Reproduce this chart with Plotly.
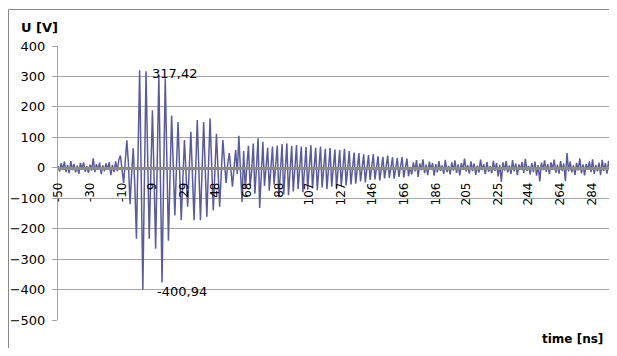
import numpy as np
import plotly.graph_objects as go

# ---- data (U in volts, sampled every 1 ns starting at -50 ns) ----
t_start = -50
t_step = 1

noise_before = [6, -12, 15, -6, 20, -14, 9, -18, 22, -8,
                13, -15, 7, -20, 16, -4, 18, -13, 5, -17,
                10, -9, 31, -14, 12, -7, 17, -21, 8, -12,
                14, -6, 19, -24, 9, -14, 21, -11, 26]

burst = [40, -5, -50, 18, 90, 15, -120, -20, 64, -60,
         -233, 40, 320, -30, -400.94, -40, 317.42, 40, -233, -20,
         189, -30, -266, 20, 304, -40, -377, -30, 293, 30,
         -240, -30, 172, 10, -157, 0]

decay_a = [150, -10, -172, -40, 91, -20, -128, -5, 118, -25,
           -172, -10, 157, -5, -172, -10, 150, -5, -161, 0,
           162, 10, -140, -15, 112, -10, -128, -20, 91, 20,
           -50, 10, 48, -5, -62, 0, 58, -20, 105, -10,
           -112]

decay_b = [55, -70, 5, 72, -60, -10, 80, -85, 0,
           97, -132, -20, 85, -60, 10, 66, -75, -5,
           70, -55, 5, 73, -97, -10, 78, -88, 0,
           80, -90, -5, 72, -78, 5, 75, -70, 0,
           70, -80, -8, 68, -72, 5, 74, -68, 0,
           66, -74, -5, 70, -65, 4, 62, -70, 0,
           65, -62, -6, 60, -66, 3, 58, -60, 0,
           62, -58, -4, 55, -55, 2, 50, -52, 0,
           48, -45, -5, 44, -48, 3, 42, -40, 0,
           45, -38, -4, 38, -42, 2, 36, -35, 0,
           40, -33, -3, 34, -36, 4, 32, -30, 0,
           35, -32, -5, 30, -28, 3]

tail = [-22, 18, -12, 25, -30, 14, -8, 28, -18, 10,
        -24, 20, -6, 16, -26, 12, -15, 22, -10, 8,
        -20, 26, -14, 6, -22, 18, -9, 24, -17, 11,
        -25, 15, -7, 30, -12, 9, -19, 21, -11, 14,
        -23, 7, -16, 27, -8, 12, -21, 19, -13, 5,
        -18, 23, -10, 16, -28, 10, -46, 18, -9, 22,
        -15, 8, -20, 25, -12, 14, -24, 11, -7, 19,
        -17, 29, -10, 6, -22, 15, -14, 20, -26, 9,
        -45, 17, -8, 24, -13, 12, -21, 18, -6, 27,
        -16, 10, -19, 22, -11, 14, -44, 48, -12, 20,
        -15, 8, -23, 16, -9, 31, -18, 11, -25, 13,
        -7, 21, -14, 28, -20, 9, -12, 17, -24, 26,
        -10, 15, -19, 23, -8, 12, -22, 18]

voltage = noise_before + burst + decay_a + decay_b + tail
time_ns = [t_start + i * t_step for i in range(len(voltage))]

tick_labels = [-50, -30, -10, 9, 29, 48, 68, 88, 107, 127, 146, 166,
               186, 205, 225, 244, 264, 284]
y_ticks = list(range(-500, 401, 100))

max_label = "317,42"
min_label = "-400,94"

# ---- figure (page has an 8px body margin: figure origin at page (8, 8)) ----
FONT = "DejaVu Sans"
OFF = 8
W, H = 617 - 2 * OFF, 356 - 2 * OFF
L, R, T = 58 - OFF, 0, 46 - OFF
B = H - (320 - OFF)
pw, ph = W - L - R, H - T - B

# keep the reference scale (557 px for the full record) in the narrower frame
x_lo = time_ns[0]
x_hi = x_lo + (time_ns[-1] - time_ns[0]) * pw / 557.0

def px(x):  # page pixel -> paper x
    return (x - OFF - L) / pw

def py(y):  # page pixel -> paper y
    return (H - B - (y - OFF)) / ph

fig = go.Figure()
fig.add_trace(go.Scatter(
    x=time_ns, y=voltage, mode="lines",
    line=dict(color="#5b5b9b", width=1.5),
    hoverinfo="skip", showlegend=False))

fig.update_layout(
    width=W, height=H,
    margin=dict(l=L, r=R, t=T, b=B, autoexpand=False),
    paper_bgcolor="white", plot_bgcolor="white",
    font=dict(family=FONT, size=13, color="black"),
    showlegend=False,
    xaxis=dict(
        range=[x_lo, x_hi],
        anchor="free", position=500 / 900, automargin=False,
        showline=True, linecolor="#8c8c8c", linewidth=3,
        layer="above traces",
        tickmode="array", tickvals=tick_labels,
        ticktext=[str(v) for v in tick_labels],
        tickangle=-90, ticks="", ticklabelstandoff=8,
        tickfont=dict(family=FONT, size=12, color="black"),
        showgrid=False, zeroline=False),
    yaxis=dict(
        range=[-500, 400], tickmode="array", tickvals=y_ticks,
        automargin=False,
        showgrid=True, gridcolor="#a6a6a6", gridwidth=1,
        showline=True, linecolor="#a6a6a6", linewidth=1,
        ticks="outside", ticklen=5, tickcolor="#a6a6a6",
        ticklabelstandoff=4,
        tickfont=dict(family=FONT, size=13, color="black"),
        zeroline=False),
)

fig.add_annotation(x=7.6, y=311, xref="x", yref="y", text=max_label,
                   showarrow=False, xanchor="left", yanchor="middle",
                   font=dict(family=FONT, size=13, color="black"))
fig.add_annotation(x=10.7, y=-405, xref="x", yref="y", text=min_label,
                   showarrow=False, xanchor="left", yanchor="middle",
                   font=dict(family=FONT, size=13, color="black"))

fig.add_annotation(x=px(19), y=py(28), xref="paper", yref="paper",
                   text="<b>U [V]</b>", showarrow=False,
                   xanchor="left", yanchor="middle",
                   font=dict(family=FONT, size=13, color="black"))
fig.add_annotation(x=px(605), y=py(339), xref="paper", yref="paper",
                   text="<b>time [ns]</b>", showarrow=False,
                   xanchor="right", yanchor="middle",
                   font=dict(family=FONT, size=12, color="black"))

# chart-area border: top and left edges
fig.add_shape(type="line", xref="paper", yref="paper",
              x0=px(8.5), x1=px(640), y0=py(9.5), y1=py(9.5),
              line=dict(color="#8a8a8a", width=1), layer="below")
fig.add_shape(type="line", xref="paper", yref="paper",
              x0=px(8.5), x1=px(8.5), y0=py(9.5), y1=py(400),
              line=dict(color="#8a8a8a", width=1), layer="below")

fig.write_html("out.html")
